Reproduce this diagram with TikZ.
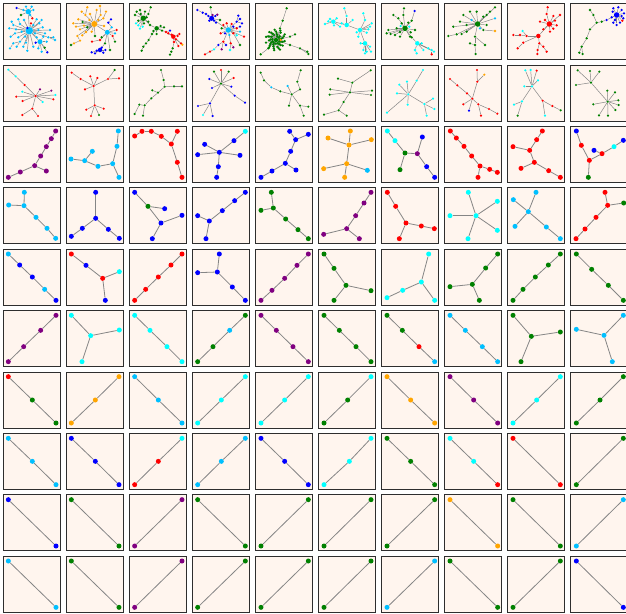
\documentclass[tikz,border=0pt]{standalone}
\usetikzlibrary{calc}
\definecolor{kS}{RGB}{0,191,255}
\definecolor{kO}{RGB}{255,165,0}
\definecolor{kG}{RGB}{0,128,0}
\definecolor{kB}{RGB}{0,0,255}
\definecolor{kR}{RGB}{255,0,0}
\definecolor{kC}{RGB}{0,255,255}
\definecolor{kP}{RGB}{128,0,128}
\definecolor{shell}{RGB}{255,245,238}
\pgfdeclarelayer{back}
\pgfdeclarelayer{bg}
\pgfsetlayers{back,bg,main}
\tikzset{
  gdot/.style={circle,inner sep=0pt,minimum size=5pt,draw=none},
  hubdot/.style={circle,inner sep=0pt,minimum size=4.5pt,draw=none},
  gedge/.style={draw=black!48,line width=0.8pt},
  cellbox/.style={fill=shell,draw=black!82,line width=1.1pt}
}
\newcommand\Gr[3]{%
  \foreach \n/\x/\y/\col in {#2}{\node[gdot,fill=\col] (#1-\n) at (\x,\y) {};}%
  \begin{pgfonlayer}{bg}%
  \foreach \p/\q in {#3}{\draw[gedge] (#1-\p) -- (#1-\q);}%
  \end{pgfonlayer}}
\begin{document}
\begin{tikzpicture}[x=1pt,y=-1pt]
\useasboundingbox (0,0) rectangle (626,613);
\begin{pgfonlayer}{back}
\foreach \rr in {0,...,9}{\foreach \cc in {0,...,9}{
  \pgfmathsetmacro\bx{round(3.3+63*\cc)+0.5}
  \pgfmathsetmacro\by{round(3.3+61.4*\rr)+0.5}
  \path[cellbox] (\bx,\by) rectangle ++(57,56);}}
\end{pgfonlayer}

% ---------------- row 0 ----------------
\begin{scope}[shift={(0pt,0pt)},x=0.33333pt,y=-0.33333pt]
\tikzset{gdot/.style={circle,inner sep=0pt,minimum size=2.6pt,draw=none},gedge/.style={draw=black!48,line width=0.45pt}}
% r0c0
\node[hubdot,minimum size=7.5pt,fill=kS] (r0c0-A) at (88,92) {};
\node[hubdot,minimum size=5.5pt,fill=kS] (r0c0-B) at (85,35) {};
\node[hubdot,minimum size=5pt,fill=kS] (r0c0-C) at (120,125) {};
\Gr{r0c0}{1/35/65/kS,2/40/75/kS,3/28/85/kS,4/45/100/kS,5/32/110/kS,6/55/112/kS,7/60/125/kS,8/50/140/kS,9/70/140/kS,10/82/152/kS,11/100/140/kS,12/110/112/kS,13/135/100/kS,14/160/112/kS,15/165/120/kS,16/145/112/kS,17/128/82/kS,18/118/70/kS,19/110/58/kS,20/60/72/kS,21/48/88/kS,22/72/60/kS,23/100/75/kS,24/105/100/kS,25/75/110/kS,26/65/95/kS,27/115/90/kS,28/93/70/kR,29/82/84/kB,30/40/130/kS,31/30/145/kS,32/78/128/kS,33/150/90/kS,34/125/60/kS,35/55/58/kS,b1/50/24/kB,b2/63/45/kG,b3/70/30/kS,b4/100/30/kS,b5/95/20/kS,b6/97/55/kR,b7/78/20/kS,b8/90/45/kS,c1/107/128/kB,c2/125/155/kS,c3/134/143/kG,c4/142/157/kB,c5/140/125/kS,c6/115/145/kS,c7/130/110/kS}
{A/2,2/1,A/3,A/4,4/5,A/6,A/7,7/8,A/9,A/10,A/11,A/12,A/13,A/16,16/14,16/15,A/17,A/18,A/19,A/20,A/21,A/22,A/23,A/24,A/25,A/26,A/27,A/28,A/29,7/30,30/31,A/32,A/33,A/34,20/35,A/B,B/b1,B/b2,B/b3,B/b4,B/b5,B/b6,B/b7,B/b8,A/C,C/c1,C/c2,C/c3,C/c4,C/c5,C/c6,C/c7}
% r0c1
\node[hubdot,minimum size=6pt,fill=kO] (r0c1-A) at (283,72) {};
\node[hubdot,minimum size=5pt,fill=kS] (r0c1-B) at (322,97) {};
\node[hubdot,fill=kB] (r0c1-D) at (300,150) {};
\Gr{r0c1}{1/220/70/kO,2/235/58/kO,3/240/88/kO,4/252/77/kO,5/232/108/kO,6/247/106/kO,7/258/96/kO,8/270/42/kO,9/290/30/kO,10/302/45/kO,11/310/55/kO,12/256/45/kO,13/262/22/kO,14/300/18/kO,15/222/130/kO,16/240/122/kO,17/268/60/kO,18/295/60/kO,19/275/95/kO,20/285/108/kG,21/345/100/kS,22/335/82/kS,23/325/68/kB,24/333/58/kB,25/350/90/kR,26/338/108/kR,27/345/125/kG,28/300/120/kR,29/315/130/kG,30/305/112/kG,31/276/125/kR,32/275/157/kB,33/290/152/kB,34/310/158/kB,35/316/150/kB,36/305/143/kB,37/285/160/kB,38/330/150/kG,40/213/135/kG,41/245/35/kO,42/228/80/kO,43/262/82/kG,44/248/66/kG,45/318/35/kO,46/312/78/kO}
{A/1,A/2,A/3,A/4,A/5,5/16,16/15,15/40,A/6,A/7,A/8,A/9,A/10,A/11,A/12,12/13,10/14,A/17,A/18,A/19,A/20,12/41,A/42,A/43,A/44,11/45,A/46,A/B,B/21,B/22,22/23,23/24,B/25,B/26,26/27,B/28,28/31,B/30,B/29,29/D,D/32,D/33,D/34,D/35,D/36,D/37,B/38}
% r0c2
\node[hubdot,minimum size=5.5pt,fill=kG] (r0c2-A) at (430,55) {};
\node[hubdot,fill=kG] (r0c2-B) at (470,85) {};
\node[hubdot,fill=kR] (r0c2-C) at (520,110) {};
\Gr{r0c2}{1/405/45/kG,2/410/35/kG,3/420/30/kG,4/435/35/kG,5/445/42/kG,6/452/22/kG,7/440/52/kG,8/415/62/kG,9/432/70/kG,10/445/65/kG,11/422/42/kG,12/415/76/kC,13/428/80/kC,14/420/86/kC,15/408/70/kC,16/450/75/kG,17/482/78/kG,18/492/82/kG,19/486/92/kG,20/460/93/kG,21/470/102/kG,22/456/102/kG,23/498/96/kR,24/510/92/kB,25/505/100/kR,26/515/104/kR,27/533/108/kR,28/538/102/kR,29/528/118/kR,30/522/126/kR,31/543/130/kR,32/535/138/kR,33/547/134/kO,34/518/145/kG,35/514/155/kG,36/510/164/kG,37/446/120/kG,38/438/130/kG,39/430/140/kG,40/425/152/kG}
{A/1,A/2,A/3,A/4,A/5,5/6,A/7,A/8,A/9,A/10,A/11,A/12,A/13,A/14,A/15,A/16,16/B,B/17,B/18,B/19,B/20,B/21,B/22,22/37,37/38,38/39,39/40,B/23,23/24,23/C,C/25,C/26,C/27,C/28,C/29,C/30,C/31,C/32,C/33,30/34,34/35,35/36}
\end{scope}

\begin{scope}[shift={(190pt,0pt)},x=0.33333pt,y=-0.33333pt]
\tikzset{gdot/.style={circle,inner sep=0pt,minimum size=2.6pt,draw=none},gedge/.style={draw=black!48,line width=0.45pt}}
% r0c3
\node[hubdot,minimum size=5pt,fill=kB] (r0c3-A) at (65,55) {};
\node[hubdot,minimum size=5.5pt,fill=kS] (r0c3-B) at (115,90) {};
\Gr{r0c3}{1/55/48/kB,2/58/62/kB,3/72/62/kB,4/76/48/kB,5/48/42/kB,6/38/38/kB,7/22/30/kB,8/62/22/kG,9/68/45/kP,10/82/44/kP,11/78/68/kB,12/100/75/kR,13/110/70/kR,14/125/72/kR,15/130/80/kB,16/140/85/kR,17/150/80/kB,18/145/47/kB,19/150/57/kB,20/140/65/kB,21/156/70/kB,22/95/85/kG,23/92/100/kR,24/105/100/kB,25/118/105/kS,26/130/100/kR,27/150/95/kS,28/162/110/kR,29/140/106/kC,30/100/125/kR,31/85/135/kB,32/72/148/kC,33/60/155/kR,34/45/163/kR,35/95/148/kP,36/108/135/kB,37/122/130/kR,38/130/142/kP,39/120/150/kC,40/150/135/kG,41/90/60/kG}
{A/1,A/2,A/3,A/4,A/5,5/6,6/7,A/8,A/9,A/10,A/11,A/41,A/B,B/12,B/13,B/14,B/15,B/16,B/17,B/20,20/18,20/19,20/21,B/22,B/23,B/24,B/25,B/26,B/27,B/28,B/29,B/30,30/31,31/32,32/33,33/34,30/35,30/36,B/37,37/38,37/39,26/40}
% r0c4
\node[hubdot,fill=kG] (r0c4-X) at (258,120) {};
\foreach \i in {1,...,48}{
  \pgfmathsetmacro\ang{\i*137.5}
  \pgfmathsetmacro\rad{31-mod(\i,5)*5}
  \node[gdot,fill=kG] (r0c4-s\i) at ({258+\rad*cos(\ang)},{120+\rad*sin(\ang)}) {};
  \begin{pgfonlayer}{bg}\draw[gedge] (r0c4-X) -- (r0c4-s\i);\end{pgfonlayer}
}
\Gr{r0c4}{1/270/85/kG,2/278/62/kG,3/290/25/kG,4/300/110/kG,5/315/103/kG,6/300/135/kG,7/330/145/kG,8/352/155/kG,9/355/162/kG,10/235/145/kG,11/212/163/kG,12/272/120/kO}
{X/1,1/2,2/3,X/4,4/5,X/6,6/7,7/8,7/9,X/10,10/11,X/12}
% r0c5
\node[hubdot,fill=kC] (r0c5-H1) at (470,75) {};
\node[hubdot,fill=kC] (r0c5-H2) at (510,90) {};
\node[hubdot,fill=kC] (r0c5-H3) at (525,130) {};
\node[hubdot,fill=kC] (r0c5-H4) at (430,65) {};
\Gr{r0c5}{1/405/72/kC,2/415/64/kC,3/420/57/kC,4/440/55/kC,5/450/80/kC,6/432/76/kC,7/463/25/kC,8/470/48/kC,9/488/60/kC,10/455/70/kC,11/520/40/kC,12/525/60/kC,13/545/70/kC,14/540/80/kC,15/530/98/kC,16/500/97/kC,17/505/110/kC,18/535/88/kC,19/520/150/kC,20/530/155/kC,21/543/155/kC,22/525/160/kC,23/512/130/kC,24/540/140/kC}
{H4/1,H4/2,H4/3,H4/4,H4/5,H4/6,H4/H1,8/7,H1/8,H1/9,H1/10,H1/H2,12/11,H2/12,H2/13,H2/14,H2/15,H2/16,H2/17,H2/18,H2/H3,H3/19,H3/20,H3/21,H3/22,H3/23,H3/24}
\end{scope}

\begin{scope}[shift={(380pt,0pt)},x=0.33333pt,y=-0.33333pt]
\tikzset{gdot/.style={circle,inner sep=0pt,minimum size=2.6pt,draw=none},gedge/.style={draw=black!48,line width=0.45pt}}
% r0c6
\node[hubdot,minimum size=5.5pt,fill=kG] (r0c6-A) at (75,85) {};
\node[hubdot,fill=kC] (r0c6-B) at (112,130) {};
\Gr{r0c6}{1/72/25/kG,2/70/45/kG,3/40/45/kG,4/55/55/kG,5/104/33/kB,6/95/62/kG,7/65/70/kG,8/25/90/kG,9/20/100/kG,10/32/102/kG,11/45/105/kG,12/60/110/kG,13/90/110/kG,14/92/97/kG,15/105/90/kG,16/85/68/kG,17/50/85/kG,18/60/96/kG,19/62/78/kC,20/88/80/kC,21/105/150/kC,22/110/160/kC,23/130/150/kC,24/125/130/kC,25/145/145/kC,26/155/150/kC,27/162/155/kC,28/155/163/kR,29/95/112/kG}
{2/1,A/2,4/3,A/4,6/5,A/6,A/7,A/8,A/9,A/10,A/11,A/12,A/13,A/14,A/15,A/16,A/17,A/18,A/19,A/20,A/29,29/B,B/21,21/22,B/23,B/24,B/25,B/26,B/27,26/28}
% r0c7
\node[hubdot,minimum size=5.5pt,fill=kG] (r0c7-A) at (293,72) {};
\Gr{r0c7}{1/345/22/kG,2/330/35/kG,3/320/45/kG,4/310/50/kG,5/240/65/kG,6/220/80/kG,7/205/108/kG,8/230/103/kG,9/245/102/kG,10/260/95/kG,11/250/45/kG,12/270/35/kG,13/290/35/kG,14/310/90/kG,15/345/93/kO,16/345/55/kS,17/300/85/kS,18/320/75/kG,19/285/110/kG,20/285/135/kG,21/287/162/kG,22/315/135/kG,23/270/130/kG,24/260/75/kG,25/275/60/kS}
{A/1,A/2,A/3,A/4,A/5,A/6,8/7,A/8,A/9,A/10,A/11,A/12,A/13,A/14,14/15,A/16,A/17,A/18,A/19,19/20,20/21,19/22,20/23,A/24,A/25}
% r0c8
\node[hubdot,minimum size=5.5pt,fill=kR] (r0c8-A) at (508,72) {};
\node[hubdot,fill=kR] (r0c8-B) at (475,108) {};
\Gr{r0c8}{1/503/22/kR,2/500/42/kR,3/540/45/kR,4/520/48/kR,5/480/65/kR,6/495/60/kR,7/525/62/kR,8/530/76/kR,9/520/86/kR,10/510/95/kR,11/490/88/kR,12/440/108/kR,13/420/105/kR,14/400/105/kR,15/428/93/kC,16/430/128/kR,17/413/145/kR,18/478/130/kR,19/473/150/kR,20/472/162/kR,21/490/140/kR,22/500/155/kR}
{1/2,2/A,A/3,A/4,A/5,A/6,A/7,A/8,A/9,A/10,A/11,A/B,B/12,12/13,13/14,12/15,B/16,16/17,B/18,18/19,19/20,18/21,21/22}
% r0c9
\node[hubdot,minimum size=5.5pt,fill=kB] (r0c9-A) at (710,45) {};
\Gr{r0c9}{1/700/25/kB,2/715/22/kB,3/725/30/kB,4/732/40/kB,5/730/55/kB,6/720/68/kB,7/710/75/kB,8/700/68/kB,9/695/52/kB,10/698/35/kB,11/725/48/kB,12/705/60/kB,13/727/62/kR,14/680/60/kB,15/665/65/kG,16/650/68/kG,17/630/88/kG,18/620/115/kG,19/605/140/kG,20/598/158/kG,21/608/162/kG,22/640/45/kG,23/630/30/kG}
{A/1,A/2,A/3,A/4,A/5,A/6,A/7,A/8,A/9,A/10,A/11,A/12,A/13,A/14,14/15,15/16,16/17,17/18,18/19,19/20,19/21,16/22,22/23}
\end{scope}

% ---------------- row 1 ----------------
\begin{scope}[shift={(0pt,0pt)},x=0.33333pt,y=-0.33333pt]
\tikzset{gdot/.style={circle,inner sep=0pt,minimum size=2.4pt,draw=none},gedge/.style={draw=black!48,line width=0.5pt}}
\Gr{r1c0}{H/107/288/kR,1/25/209/kC,2/47/229/kC,3/74/255/kR,4/67/275/kC,5/49/290/kR,6/68/303/kR,7/120/268/kP,8/154/272/kP,9/160/298/kR,10/166/285/kC,11/128/306/kC,12/97/326/kR,13/67/345/kR,14/114/348/kR}
{1/2,2/3,3/H,H/4,H/5,H/6,H/7,H/8,H/9,H/10,H/11,H/12,12/13,12/14}
\Gr{r1c1}{H/281/258/kR,K/284/316/kR,1/215/218/kR,2/242/237/kR,3/271/229/kR,4/292/234/kR,5/255/268/kR,6/324/237/kR,7/344/210/kG,8/357/235/kR,9/259/329/kR,10/273/348/kR,11/311/326/kR,12/297/345/kG}
{1/2,2/H,3/H,4/H,5/H,H/6,6/7,6/8,H/K,K/9,K/10,K/11,K/12}
\Gr{r1c2}{1/483/210/kG,2/491/240/kG,3/494/260/kG,4/522/259/kG,5/546/259/kG,6/474/278/kG,7/457/271/kG,8/454/295/kG,9/434/316/kG,10/418/314/kG,11/429/347/kG,12/404/342/kG}
{1/2,2/3,3/4,4/5,3/6,6/7,6/8,8/9,9/10,9/11,10/12}
\end{scope}

\begin{scope}[shift={(190pt,0pt)},x=0.33333pt,y=-0.33333pt]
\tikzset{gdot/.style={circle,inner sep=0pt,minimum size=2.4pt,draw=none},gedge/.style={draw=black!48,line width=0.5pt}}
\Gr{r1c3}{H/93/251/kG,1/72/215/kG,2/93/210/kR,3/116/215/kG,4/58/237/kB,5/131/234/kR,6/66/264/kB,7/124/260/kB,8/134/287/kB,9/165/308/kB,10/60/310/kB,11/24/318/kB,12/39/345/kC,13/68/348/kB}
{H/1,H/2,H/3,H/4,H/5,H/6,H/7,H/8,8/9,H/10,10/11,10/12,10/13}
\Gr{r1c4}{1/212/218/kG,2/222/241/kG,3/244/262/kS,4/271/274/kG,5/305/283/kG,6/293/258/kS,7/322/245/kG,8/332/211/kG,9/330/268/kG,10/297/317/kG,11/330/317/kG,12/355/320/kG,13/341/347/kG}
{1/2,2/3,3/4,4/5,5/6,5/9,9/7,7/8,5/10,5/11,11/12,11/13}
\Gr{r1c5}{H/480/277/kG,1/444/236/kG,2/487/248/kG,3/542/211/kG,4/421/268/kG,5/419/284/kG,6/546/272/kG,7/543/285/kG,8/461/306/kG,9/446/331/kG,10/402/344/kG,11/470/347/kG}
{1/2,2/3,2/H,H/4,H/5,H/6,H/7,H/8,8/9,9/10,9/11}
\end{scope}

\begin{scope}[shift={(380pt,0pt)},x=0.33333pt,y=-0.33333pt]
\tikzset{gdot/.style={circle,inner sep=0pt,minimum size=2.4pt,draw=none},gedge/.style={draw=black!48,line width=0.5pt}}
\Gr{r1c6}{H/85/283/kC,1/129/210/kC,2/110/242/kC,3/81/245/kC,4/58/254/kC,5/51/280/kC,6/83/314/kC,7/133/312/kC,8/159/296/kC,9/163/327/kC,10/140/347/kC,11/21/338/kC}
{H/2,2/1,H/3,H/4,H/5,H/6,H/7,7/8,7/9,7/10,H/11}
\Gr{r1c7}{H/277/296/kR,1/210/237/kR,2/232/256/kR,3/261/280/kR,4/291/210/kR,5/292/245/kR,6/313/224/kO,7/250/313/kR,8/267/332/kB,9/295/313/kR,10/303/347/kR,11/327/327/kR,12/352/341/kR}
{1/2,2/3,3/H,H/5,5/4,5/6,H/7,H/8,H/9,9/10,9/11,11/12}
\Gr{r1c8}{H/456/259/kC,1/436/211/kC,2/452/210/kC,3/470/212/kR,4/474/241/kC,5/433/259/kC,6/426/304/kC,7/402/314/kC,8/413/347/kG,9/488/302/kR,10/517/318/kR,11/542/331/kG,12/495/347/kC}
{H/1,H/2,H/3,H/4,H/5,H/6,6/7,6/8,H/9,9/10,10/11,9/12}
\Gr{r1c9}{H/633/248/kG,K/683/305/kG,1/593/211/kG,2/630/213/kG,3/658/215/kG,4/588/255/kG,5/682/272/kG,6/705/277/kG,7/640/313/kG,8/715/301/kG,9/716/315/kG,10/706/330/kG,11/684/347/kG,12/657/346/kG}
{1/H,2/H,3/H,4/H,H/K,K/5,K/6,K/7,K/8,K/9,K/10,K/11,K/12}
\end{scope}

% ---------------- rows 2-3 ----------------
\begin{scope}[shift={(0pt,-120pt)},x=0.33333pt,y=-0.33333pt]
\Gr{r2c0}{1/167/33/kP,2/154/56/kP,3/139/80/kP,4/122/108/kP,5/104/137/kP,6/139/153/kP,7/61/156/kP,8/25/172/kP}{1/2,2/3,3/4,4/5,5/6,5/7,7/8}
\Gr{r2c1}{1/355/33/kS,2/351/79/kS,3/338/131/kS,4/357/172/kS,5/294/139/kS,6/254/122/kS,7/213/117/kS,8/277/94/kS}{1/2,2/3,3/4,3/5,5/6,6/7,6/8}
\Gr{r2c2}{1/404/48/kR,2/426/34/kR,3/454/34/kR,4/484/49/kR,5/514/72/kR,6/532/34/kR,7/532/127/kR,8/546/172/kR}{1/2,2/3,3/4,4/5,5/6,5/7,7/8}
\Gr{r2c3}{1/736/34/kC,2/702/62/kB,3/658/97/kB,4/614/73/kB,5/593/104/kB,6/720/106/kB,7/655/140/kB,8/650/172/kB}{1/2,2/3,3/4,3/5,3/6,3/7,7/8}
\Gr{r2c4}{1/925/43/kB,2/887/59/kB,3/869/34/kB,4/872/94/kB,5/856/130/kB,6/888/150/kB,7/816/153/kB,8/783/172/kB}{1/2,2/3,2/4,4/5,5/6,5/7,7/8}
\Gr{r3c0}{1/73/217/kS,2/72/257/kS,3/26/255/kS,4/108/292/kS,5/141/325/kS,6/167/355/kS}{1/2,2/3,2/4,4/5,5/6}
\Gr{r3c1}{1/287/217/kB,2/287/295/kB,3/247/325/kB,4/214/349/kB,5/325/328/kB,6/358/355/kB}{1/2,2/3,3/4,2/5,5/6}
\Gr{r3c2}{1/404/217/kB,2/444/259/kG,3/494/266/kB,4/483/309/kB,5/546/286/kB,6/457/356/kB}{1/2,2/3,2/4,4/5,4/6}
\Gr{r3c3}{1/736/217/kB,2/704/242/kB,3/667/272/kB,4/628/303/kB,5/593/287/kB,6/618/356/kB}{1/2,2/3,3/4,4/5,4/6}
\Gr{r3c4}{1/814/217/kG,2/820/264/kG,3/783/271/kG,4/857/297/kG,5/894/329/kG,6/925/356/kG}{1/2,2/3,2/4,4/5,5/6}
\end{scope}

\begin{scope}[shift={(310pt,-120pt)},x=0.33333pt,y=-0.33333pt]
\Gr{r2c5}{1/121/33/kO,2/54/54/kO,3/184/59/kO,4/117/75/kO,5/110/131/kO,6/41/146/kO,7/104/172/kO,8/172/151/kS}{1/4,2/4,3/4,4/5,5/6,5/7,5/8}
\Gr{r2c6}{1/232/33/kC,2/255/62/kC,3/285/99/kG,4/270/149/kG,5/322/101/kP,6/337/51/kB,7/350/140/kB,8/374/172/kB}{1/2,2/3,3/4,3/5,5/6,5/7,7/8}
\Gr{r2c7}{1/421/33/kR,2/439/54/kR,3/462/79/kR,4/485/108/kR,5/510/138/kR,6/539/148/kR,7/562/157/kR,8/504/172/kR}{1/2,2/3,3/4,4/5,5/6,6/7,5/8}
\Gr{r2c8}{1/697/33/kR,2/680/59/kR,3/659/91/kR,4/609/80/kR,5/673/127/kR,6/633/145/kR,7/716/152/kR,8/751/172/kR}{1/2,2/3,3/4,3/5,5/6,5/7,7/8}
\Gr{r2c9}{1/799/33/kB,2/814/76/kR,3/838/121/kR,4/835/172/kG,5/876/101/kR,6/852/91/kB,7/912/80/kC,8/940/61/kB}{1/2,2/3,3/4,3/5,5/6,5/7,7/8}
\Gr{r3c5}{1/183/217/kP,2/162/249/kP,3/137/287/kP,4/110/326/kP,5/41/343/kP,6/148/356/kP}{1/2,2/3,3/4,4/5,4/6}
\Gr{r3c6}{1/232/217/kR,2/257/259/kR,3/288/309/kR,4/334/318/kR,5/373/326/kR,6/268/356/kR}{1/2,2/3,3/4,4/5,3/6}
\Gr{r3c7}{1/475/217/kC,2/562/244/kC,3/420/287/kC,4/498/287/kC,5/562/331/kC,6/474/356/kC}{1/4,2/4,3/4,5/4,6/4}
\Gr{r3c8}{1/678/217/kS,2/610/239/kS,3/655/275/kS,4/615/319/kS,5/709/321/kS,6/751/356/kS}{1/3,2/3,3/4,3/5,5/6}
\Gr{r3c9}{1/885/217/kR,2/941/249/kG,3/893/256/kR,4/858/292/kR,5/825/327/kR,6/798/356/kR}{1/3,2/3,3/4,4/5,5/6}
\end{scope}

% ---------------- rows 4-5 ----------------
\begin{scope}[shift={(0pt,-240pt)},x=0.33333pt,y=-0.33333pt]
\Gr{r4c0}{1/25/42/kS,2/59/75/kB,3/97/111/kB,4/134/148/kS,5/168/181/kB}{1/2,2/3,3/4,4/5}
\Gr{r4c1}{1/214/42/kR,2/258/76/kB,3/308/115/kR,4/358/95/kC,5/316/181/kB}{1/2,2/3,3/4,3/5}
\Gr{r4c2}{1/546/42/kR,2/513/75/kR,3/475/111/kR,4/437/148/kR,5/404/181/kR}{1/2,2/3,3/4,4/5}
\Gr{r4c3}{1/658/42/kB,2/652/96/kB,3/593/98/kB,4/697/141/kB,5/736/181/kB}{1/2,2/3,2/4,4/5}
\Gr{r4c4}{1/925/42/kP,2/891/76/kP,3/854/115/kP,4/816/151/kP,5/783/181/kP}{1/2,2/3,3/4,4/5}
\Gr{r5c0}{1/168/226/kP,2/122/271/kP,3/71/320/kP,4/25/365/kP}{1/2,2/3,3/4}
\Gr{r5c1}{1/214/226/kC,2/272/287/kC,3/358/270/kC,4/246/365/kC}{1/2,2/3,2/4}
\Gr{r5c2}{1/404/226/kC,2/450/271/kC,3/501/320/kC,4/546/365/kC}{1/2,2/3,3/4}
\Gr{r5c3}{1/736/226/kG,2/689/271/kS,3/639/320/kG,4/593/365/kG}{1/2,2/3,3/4}
\Gr{r5c4}{1/783/226/kP,2/829/271/kP,3/879/320/kP,4/925/365/kP}{1/2,2/3,3/4}
\end{scope}

\begin{scope}[shift={(310pt,-240pt)},x=0.33333pt,y=-0.33333pt]
\Gr{r4c5}{1/42/42/kG,2/72/85/kG,3/108/136/kG,4/183/152/kG,5/72/181/kG}{1/2,2/3,3/4,3/5}
\Gr{r4c6}{1/356/42/kC,2/334/126/kC,3/278/151/kC,4/231/173/kC,5/374/181/kC}{1/2,2/3,3/4,2/5}
\Gr{r4c7}{1/563/42/kG,2/527/84/kG,3/487/133/kG,4/420/140/kG,5/508/181/kG}{1/2,2/3,3/4,3/5}
\Gr{r4c8}{1/751/42/kG,2/715/75/kG,3/676/111/kG,4/639/148/kG,5/609/181/kG}{1/2,2/3,3/4,4/5}
\Gr{r4c9}{1/799/42/kG,2/845/88/kG,3/895/136/kG,4/940/181/kG}{1/2,2/3,3/4}
\Gr{r5c5}{1/42/226/kG,2/88/271/kG,3/138/320/kG,4/183/365/kG}{1/2,2/3,3/4}
\Gr{r5c6}{1/231/226/kG,2/277/271/kG,3/327/320/kR,4/374/365/kS}{1/2,2/3,3/4}
\Gr{r5c7}{1/420/226/kS,2/466/271/kS,3/517/320/kS,4/563/365/kS}{1/2,2/3,3/4}
\Gr{r5c8}{1/609/226/kG,2/664/289/kG,3/751/276/kG,4/633/365/kG}{1/2,2/3,2/4}
\Gr{r5c9}{1/940/226/kS,2/882/286/kS,3/799/268/kS,4/907/365/kS}{1/2,2/3,2/4}
\end{scope}

% ---------------- rows 6-7 ----------------
\begin{scope}[shift={(0pt,-360pt)},x=0.33333pt,y=-0.33333pt]
\Gr{r6c0}{1/25/50/kR,2/97/120/kG,3/168/189/kG}{1/2,2/3}
\Gr{r6c1}{1/214/189/kO,2/286/120/kO,3/357/50/kO}{1/2,2/3}
\Gr{r6c2}{1/404/50/kS,2/475/120/kS,3/546/189/kS}{1/2,2/3}
\Gr{r6c3}{1/593/189/kC,2/664/120/kC,3/736/50/kC}{1/2,2/3}
\Gr{r6c4}{1/783/189/kC,2/854/120/kC,3/925/50/kC}{1/2,2/3}
\Gr{r7c0}{1/25/235/kS,2/97/304/kS,3/168/374/kS}{1/2,2/3}
\Gr{r7c1}{1/214/235/kB,2/286/304/kB,3/357/374/kB}{1/2,2/3}
\Gr{r7c2}{1/404/374/kR,2/475/304/kR,3/546/235/kC}{1/2,2/3}
\Gr{r7c3}{1/593/374/kS,2/664/304/kS,3/736/235/kS}{1/2,2/3}
\Gr{r7c4}{1/783/235/kB,2/854/304/kB,3/925/374/kB}{1/2,2/3}
\end{scope}

\begin{scope}[shift={(310pt,-360pt)},x=0.33333pt,y=-0.33333pt]
\Gr{r6c5}{1/42/189/kG,2/113/120/kG,3/183/50/kC}{1/2,2/3}
\Gr{r6c6}{1/231/50/kO,2/302/120/kO,3/374/189/kO}{1/2,2/3}
\Gr{r6c7}{1/420/50/kP,2/491/120/kP,3/563/189/kP}{1/2,2/3}
\Gr{r6c8}{1/609/189/kC,2/680/120/kC,3/751/50/kC}{1/2,2/3}
\Gr{r6c9}{1/799/189/kG,2/870/120/kG,3/940/50/kG}{1/2,2/3}
\Gr{r7c5}{1/42/374/kC,2/118/304/kC,3/183/235/kC}{1/2,2/3}
\Gr{r7c6}{1/231/235/kG,2/302/304/kG,3/374/374/kG}{1/2,2/3}
\Gr{r7c7}{1/420/235/kC,2/491/304/kC,3/563/374/kR}{1/2,2/3}
\Gr{r7c8}{1/609/235/kR,2/751/374/kR}{1/2}
\Gr{r7c9}{1/799/374/kG,2/940/235/kG}{1/2}
\end{scope}

% ---------------- rows 8-9 ----------------
\begin{scope}[shift={(0pt,-480pt)},x=0.33333pt,y=-0.33333pt]
\Gr{r8c0}{1/25/59/kB,2/168/198/kB}{1/2}
\Gr{r8c1}{1/214/59/kG,2/357/198/kG}{1/2}
\Gr{r8c2}{1/404/198/kP,2/546/59/kP}{1/2}
\Gr{r8c3}{1/593/59/kG,2/736/198/kG}{1/2}
\Gr{r8c4}{1/783/198/kG,2/925/59/kG}{1/2}
\Gr{r9c0}{1/25/243/kS,2/168/382/kS}{1/2}
\Gr{r9c1}{1/214/243/kG,2/357/382/kG}{1/2}
\Gr{r9c2}{1/404/382/kP,2/546/243/kP}{1/2}
\Gr{r9c3}{1/593/382/kG,2/736/243/kG}{1/2}
\Gr{r9c4}{1/783/382/kG,2/925/243/kG}{1/2}
\end{scope}

\begin{scope}[shift={(310pt,-480pt)},x=0.33333pt,y=-0.33333pt]
\Gr{r8c5}{1/42/198/kG,2/183/59/kG}{1/2}
\Gr{r8c6}{1/231/198/kG,2/374/59/kG}{1/2}
\Gr{r8c7}{1/420/59/kO,2/563/198/kO}{1/2}
\Gr{r8c8}{1/609/59/kG,2/751/198/kG}{1/2}
\Gr{r8c9}{1/799/198/kS,2/940/59/kS}{1/2}
\Gr{r9c5}{1/42/382/kG,2/183/243/kG}{1/2}
\Gr{r9c6}{1/231/382/kS,2/374/243/kS}{1/2}
\Gr{r9c7}{1/420/243/kG,2/563/382/kG}{1/2}
\Gr{r9c8}{1/609/382/kG,2/751/243/kG}{1/2}
\Gr{r9c9}{1/799/243/kB,2/940/382/kB}{1/2}
\end{scope}
\end{tikzpicture}
\end{document}
